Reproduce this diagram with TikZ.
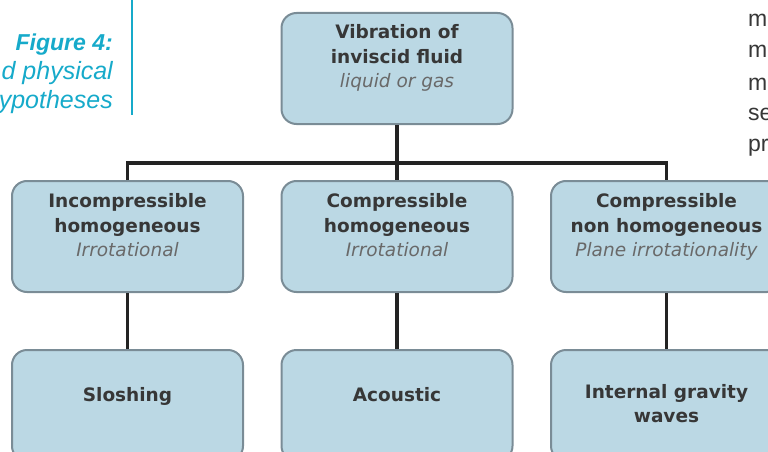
\documentclass[tikz,border=0pt]{standalone}
\usepackage{fontspec}
\setmainfont{Liberation Sans}
\newfontfamily\boxfont{DejaVu Sans}
\definecolor{boxblue}{RGB}{187,216,228}
\definecolor{boxedge}{RGB}{122,140,150}
\definecolor{linkgray}{RGB}{35,35,35}
\definecolor{captioncyan}{RGB}{22,170,202}
\definecolor{textgray}{RGB}{55,55,55}
\definecolor{notegray}{RGB}{105,105,105}
\tikzset{
  box/.style={
    rectangle,
    rounded corners=15pt,
    fill=boxblue,
    draw=boxedge,
    line width=2pt,
    minimum width=231pt,
    minimum height=111pt,
    inner sep=0pt
  },
  box-text/.style={align=center, anchor=north, inner sep=0pt, text=textgray,
    font=\boxfont\bfseries\fontsize{18.5}{24.5}\selectfont},
  link/.style={draw=linkgray, line width=3.5pt},
  caption-text/.style={anchor=base east, inner sep=0pt, text=captioncyan,
    font=\itshape\fontsize{25}{28}\selectfont},
  body-text/.style={anchor=base west, inner sep=0pt, text=textgray,
    font=\fontsize{23}{28}\selectfont}
}
\newcommand{\note}[1]{{\mdseries\itshape\color{notegray}#1}}

\begin{document}
\begin{tikzpicture}[x=1pt, y=-1pt]
  \useasboundingbox (0,0) rectangle (768,452);
  \clip (0,0) rectangle (768,452);

  % Caption
  \node[caption-text, font=\bfseries\itshape\fontsize{23}{28}\selectfont]
    (fig-title) at (113,51) {Figure 4:};
  \node[caption-text] (fig-line1) at (113,80) {d physical};
  \node[caption-text] (fig-line2) at (113,108) {ypotheses};
  \draw[captioncyan, line width=1.5pt] (132,0) -- (132,115);

  % Body text
  \node[body-text] (body1) at (748,27) {m};
  \node[body-text] (body2) at (748,58) {m};
  \node[body-text] (body3) at (748,90) {m};
  \node[body-text] (body4) at (748,120) {se};
  \node[body-text] (body5) at (748,151) {pr};

  % Boxes
  \node[box] (vib) at (397,68.5) {};
  \node[box] (inc) at (127.5,236.5) {};
  \node[box] (cmp) at (397,236.5) {};
  \node[box] (nhc) at (666.5,236.5) {};
  \node[box] (slosh) at (127.5,405.5) {};
  \node[box] (acou) at (397,405.5) {};
  \node[box] (grav) at (666.5,405.5) {};

  % Box texts
  \node[box-text] (vib-t) at ([yshift=-12.5pt]vib.north)
    {Vibration of\\inviscid fluid\\\note{liquid or gas}};
  \node[box-text] (inc-t) at ([yshift=-13.5pt]inc.north)
    {Incompressible\\homogeneous\\\note{Irrotational}};
  \node[box-text] (cmp-t) at ([yshift=-13.5pt]cmp.north)
    {Compressible\\homogeneous\\\note{Irrotational}};
  \node[box-text] (nhc-t) at ([yshift=-13.5pt]nhc.north)
    {Compressible\\non homogeneous\\\note{Plane irrotationality}};
  \node[box-text] (slosh-t) at ([yshift=-38.5pt]slosh.north) {Sloshing};
  \node[box-text] (acou-t) at ([yshift=-38.5pt]acou.north) {Acoustic};
  \node[box-text] (grav-t) at ([yshift=-35pt]grav.north) {Internal gravity\\waves};

  % Links
  \coordinate (split) at (397,163);
  \draw[link] (vib.south) -- (cmp.north);
  \draw[link] (inc.north) |- (split) -| (nhc.north);
  \draw[link] (inc.south) -- (slosh.north);
  \draw[link] (cmp.south) -- (acou.north);
  \draw[link] (nhc.south) -- (grav.north);
\end{tikzpicture}
\end{document}
